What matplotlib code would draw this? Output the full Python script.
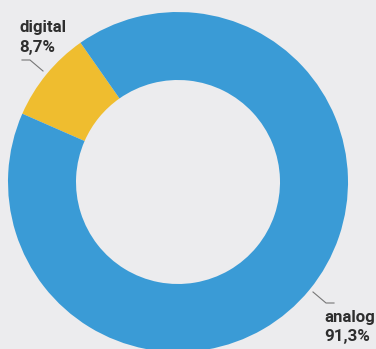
import matplotlib.pyplot as plt

labels = ["digital", "analog"]
shares = [8.7, 91.3]
share_labels = ["8,7%", "91,3%"]
colors = ["#efbd2f", "#3a9bd6"]

BG = "#ececee"
TEXT = "#2e2e2e"
W, H = 376, 349

fig = plt.figure(figsize=(W / 100, H / 100), dpi=100, facecolor=BG)
ax = fig.add_axes([0, 0, 1, 1])
ax.set_facecolor(BG)

# ring centre in pixel coords (y measured from bottom)
cx, cy = 178, H - 182
ax.pie(
    shares,
    colors=colors,
    startangle=125,
    counterclock=True,
    center=(cx, cy),
    radius=170,
    wedgeprops=dict(width=68, edgecolor="none"),
    frame=True,
)
ax.set_xlim(0, W)
ax.set_ylim(0, H)
ax.set_aspect("equal")
ax.axis("off")

font = dict(family="Roboto", fontweight="bold", fontsize=12.2, color=TEXT)

# digital label + leader
ax.text(19, H - 32, labels[0], ha="left", va="baseline", **font)
ax.text(19, H - 52, share_labels[0], ha="left", va="baseline", **font)
ax.plot([22, 30, 43], [H - 60, H - 60, H - 71], color="#777777", lw=0.8)

# analog label + leader
ax.text(324, H - 322, labels[1], ha="left", va="baseline", **font)
ax.text(324, H - 341, share_labels[1], ha="left", va="baseline", **font)
ax.plot([313, 326, 334], [H - 292, H - 303, H - 303], color="#777777", lw=0.8)

fig.savefig("out.png", dpi=100, facecolor=BG)
